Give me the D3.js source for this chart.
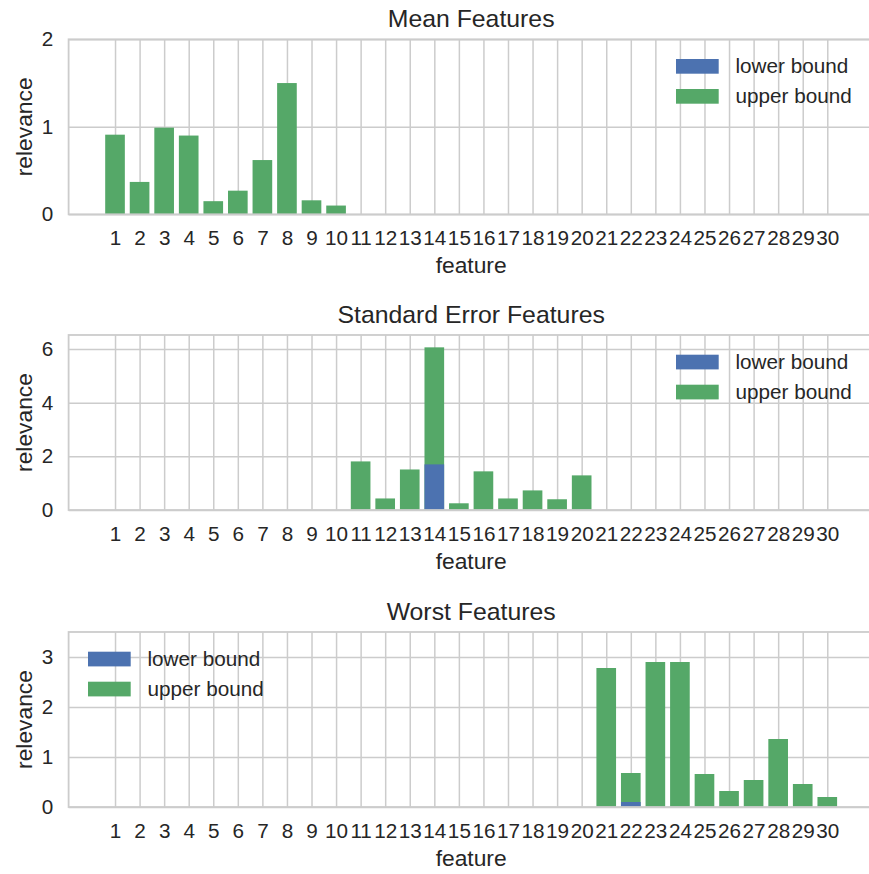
<!DOCTYPE html>
<html>
<head>
<meta charset="utf-8">
<script src="https://cdn.jsdelivr.net/npm/d3@7"></script>
<style>
  body { margin: 0; background: #fff; }
  svg { display: block; }
  text { font-family: "Liberation Sans", Arial, sans-serif; fill: #262626; }
</style>
</head>
<body>
<div id="chart"></div>
<script>
const features = d3.range(1, 31)

// relevance bounds, one value per feature
const meanLower = [0,0,0,0,0,0,0,0,0,0, 0,0,0,0,0,0,0,0,0,0, 0,0,0,0,0,0,0,0,0,0]
const meanUpper = [0.91,0.37,0.99,0.90,0.15,0.27,0.62,1.50,0.16,0.10, 0,0,0,0,0,0,0,0,0,0, 0,0,0,0,0,0,0,0,0,0]
const seLower = [0,0,0,0,0,0,0,0,0,0, 0,0,0,1.70,0,0,0,0,0,0, 0,0,0,0,0,0,0,0,0,0]
const seUpper = [0,0,0,0,0,0,0,0,0,0, 1.81,0.43,1.51,6.06,0.25,1.44,0.43,0.73,0.40,1.29, 0,0,0,0,0,0,0,0,0,0]
const worstLower = [0,0,0,0,0,0,0,0,0,0, 0,0,0,0,0,0,0,0,0,0, 0,0.10,0,0,0,0,0,0,0,0]
const worstUpper = [0,0,0,0,0,0,0,0,0,0, 0,0,0,0,0,0,0,0,0,0, 2.78,0.68,2.90,2.90,0.66,0.32,0.54,1.36,0.46,0.20]

const titles = ["Mean Features", "Standard Error Features", "Worst Features"]
const yMax = [2, 6.52, 3.5]
const yTicks = [[0, 1, 2], [0, 2, 4, 6], [0, 1, 2, 3]]
const legendSide = ["right", "right", "left"]
const legendLabels = ["lower bound", "upper bound"]

const colors = { lower: "#4C72B0", upper: "#55A868" }

const W = 869, H = 874
const left = 68.6, right = 873.7
const tops = [39.3, 335, 632]
const ph = 175

const svg = d3.select("#chart").append("svg")
    .attr("width", W)
    .attr("height", H)

svg.append("rect").attr("width", W).attr("height", H).attr("fill", "#fff")

const x = d3.scaleLinear().domain([-0.89, 31.89]).range([left, right])

const panels = [
  { lower: meanLower, upper: meanUpper },
  { lower: seLower, upper: seUpper },
  { lower: worstLower, upper: worstUpper }
]

panels.forEach((p, i) => {
  const top = tops[i], bottom = top + ph
  const y = d3.scaleLinear().domain([0, yMax[i]]).range([bottom, top])
  const g = svg.append("g")

  // grid + tick labels
  const gx = g.append("g")
      .attr("transform", `translate(0,${bottom})`)
      .call(d3.axisBottom(x).tickValues(features).tickSize(-ph).tickPadding(16))
  gx.select(".domain").remove()
  gx.selectAll("line").attr("stroke", "#cccccc").attr("stroke-width", 1.5)
  gx.selectAll("text").attr("font-size", 20.7).attr("font-family", null).attr("fill", "#262626")

  const gy = g.append("g")
      .attr("transform", `translate(${left},0)`)
      .call(d3.axisLeft(y).tickValues(yTicks[i]).tickFormat(d3.format("d")).tickSize(-(right - left)).tickPadding(15.3))
  gy.select(".domain").remove()
  gy.selectAll("line").attr("stroke", "#cccccc").attr("stroke-width", 1.5)
  gy.selectAll("text").attr("font-size", 20.7).attr("font-family", null).attr("fill", "#262626")

  // bars: upper bound then lower bound drawn over it
  const rows = features.map((f, k) => ({ f, lo: p.lower[k], hi: p.upper[k] }))
  g.append("g").selectAll("rect").data(rows.filter(d => d.hi > 0)).join("rect")
      .attr("x", d => x(d.f - 0.4))
      .attr("width", d => x(d.f + 0.4) - x(d.f - 0.4))
      .attr("y", d => y(d.hi))
      .attr("height", d => y(0) - y(d.hi))
      .attr("fill", colors.upper)
  g.append("g").selectAll("rect").data(rows.filter(d => d.lo > 0)).join("rect")
      .attr("x", d => x(d.f - 0.4))
      .attr("width", d => x(d.f + 0.4) - x(d.f - 0.4))
      .attr("y", d => y(d.lo))
      .attr("height", d => y(0) - y(d.lo))
      .attr("fill", colors.lower)

  // spines
  g.append("rect")
      .attr("x", left).attr("y", top)
      .attr("width", right - left).attr("height", ph)
      .attr("fill", "none").attr("stroke", "#cccccc").attr("stroke-width", 1.8)

  // title and axis labels
  g.append("text")
      .attr("x", (left + right) / 2).attr("y", top - 12.4)
      .attr("text-anchor", "middle").attr("font-size", 24.8)
      .text(titles[i])
  g.append("text")
      .attr("x", (left + right) / 2).attr("y", bottom + 59)
      .attr("text-anchor", "middle").attr("font-size", 22.8)
      .text("feature")
  g.append("text")
      .attr("transform", `translate(31.5,${top + ph / 2}) rotate(-90)`)
      .attr("text-anchor", "middle").attr("font-size", 22.8)
      .text("relevance")

  // legend
  const lx = legendSide[i] === "right" ? right - 197.7 : left + 19.4
  const lg = g.append("g").attr("transform", `translate(${lx},${top + 27})`)
  legendLabels.forEach((lab, k) => {
    lg.append("rect")
        .attr("x", 0).attr("y", k * 30 - 7.3)
        .attr("width", 42.7).attr("height", 14.7)
        .attr("fill", k === 0 ? colors.lower : colors.upper)
    lg.append("text")
        .attr("x", 59.5).attr("y", k * 30 + 7)
        .attr("font-size", 20.7)
        .text(lab)
  })
})
</script>
</body>
</html>
